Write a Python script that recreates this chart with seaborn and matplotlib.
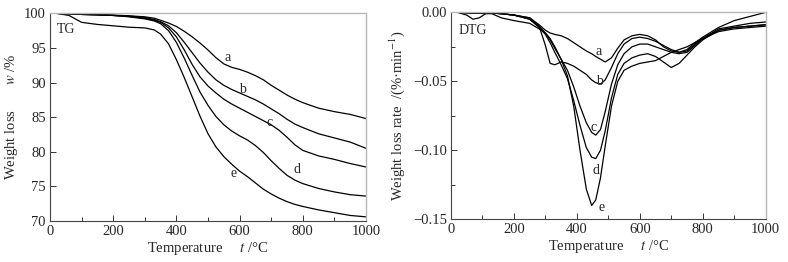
import numpy as np
import pandas as pd
import seaborn as sns
import matplotlib.pyplot as plt
from matplotlib.ticker import MultipleLocator

# TG curves (weight %)
tg_temp = [20, 60, 80, 100, 150, 200, 250, 300, 330, 350, 375, 400, 425, 450, 475,
           500, 525, 550, 575, 600, 625, 650, 675, 700, 725, 750, 775, 800, 850, 900, 950, 1000]
tg_a = [100, 99.95, 99.9, 99.85, 99.8, 99.75, 99.65, 99.5, 99.3, 99.0, 98.6, 98.1, 97.4, 96.6, 95.7,
        94.7, 93.6, 92.7, 92.2, 91.9, 91.5, 91.0, 90.4, 89.6, 88.9, 88.2, 87.6, 87.1, 86.3, 85.8, 85.4, 84.8]
tg_b = [100, 99.95, 99.9, 99.85, 99.8, 99.7, 99.6, 99.4, 99.1, 98.8, 98.2, 97.2, 95.8, 94.3, 92.8,
        91.5, 90.4, 89.6, 89.0, 88.5, 88.0, 87.5, 86.9, 86.2, 85.5, 84.7, 84.0, 83.5, 82.6, 82.0, 81.4, 80.5]
tg_c = [100, 99.95, 99.9, 99.85, 99.8, 99.7, 99.55, 99.3, 99.0, 98.7, 97.9, 96.6, 94.7, 92.6, 90.8,
        89.5, 88.5, 87.6, 86.9, 86.3, 85.7, 85.1, 84.5, 83.9, 83.1, 82.1, 81.0, 80.2, 79.4, 78.9, 78.3, 77.8]
tg_d = [100, 99.95, 99.9, 99.85, 99.8, 99.7, 99.5, 99.2, 98.9, 98.5, 97.5, 95.8, 93.5, 91.0, 88.6,
        86.7, 85.1, 83.9, 83.0, 82.3, 81.7, 80.9, 79.9, 78.7, 77.6, 76.6, 75.9, 75.4, 74.7, 74.2, 73.8, 73.6]
tg_e = [100, 99.7, 99.2, 98.7, 98.4, 98.2, 98.0, 97.9, 97.6, 97.0, 95.6, 93.3, 90.7, 87.9, 85.1,
        82.6, 80.7, 79.3, 78.2, 77.2, 76.4, 75.5, 74.6, 73.9, 73.3, 72.8, 72.4, 72.1, 71.6, 71.2, 70.8, 70.6]

# DTG curves
dtg_temp = [20, 50, 70, 90, 110, 130, 160, 200, 250, 280, 300, 315, 330, 350, 370, 390, 410, 430, 447,
            460, 475, 490, 510, 530, 550, 575, 600, 625, 650, 675, 700, 725, 750, 775, 800, 850, 900, 950, 1000]
dtg_a = [0, -0.0003, -0.0005, -0.0007, -0.0008, -0.0005, -0.001, -0.002, -0.004, -0.009, -0.013, -0.015,
         -0.016, -0.017, -0.019, -0.022, -0.025, -0.028, -0.030, -0.032, -0.034, -0.036, -0.033, -0.026,
         -0.020, -0.017, -0.016, -0.017, -0.020, -0.025, -0.028, -0.029, -0.028, -0.023, -0.019, -0.013,
         -0.011, -0.010, -0.009]
dtg_b = [0, -0.0003, -0.0005, -0.0007, -0.0008, -0.0005, -0.001, -0.002, -0.004, -0.010, -0.024, -0.037,
         -0.038, -0.036, -0.037, -0.039, -0.042, -0.045, -0.049, -0.051, -0.052, -0.049, -0.040, -0.030,
         -0.023, -0.019, -0.018, -0.019, -0.021, -0.024, -0.027, -0.029, -0.027, -0.022, -0.018, -0.011,
         -0.006, -0.003, 0.000]
dtg_c = [0, -0.0003, -0.0005, -0.0007, -0.0008, -0.0005, -0.001, -0.002, -0.005, -0.010, -0.015, -0.020,
         -0.026, -0.034, -0.042, -0.054, -0.068, -0.080, -0.087, -0.089, -0.085, -0.072, -0.052, -0.038,
         -0.030, -0.025, -0.023, -0.023, -0.025, -0.027, -0.029, -0.030, -0.029, -0.024, -0.019, -0.012,
         -0.010, -0.008, -0.007]
dtg_d = [0, -0.0003, -0.0005, -0.0007, -0.0008, -0.0005, -0.001, -0.002, -0.005, -0.011, -0.016, -0.022,
         -0.029, -0.038, -0.048, -0.064, -0.082, -0.098, -0.105, -0.106, -0.100, -0.086, -0.062, -0.045,
         -0.037, -0.033, -0.031, -0.030, -0.032, -0.036, -0.040, -0.037, -0.031, -0.025, -0.020, -0.013,
         -0.011, -0.010, -0.009]
dtg_e = [0, -0.002, -0.005, -0.004, -0.001, -0.001, -0.004, -0.006, -0.008, -0.012, -0.015, -0.019,
         -0.025, -0.034, -0.046, -0.068, -0.100, -0.128, -0.140, -0.136, -0.120, -0.097, -0.068, -0.050,
         -0.042, -0.039, -0.037, -0.036, -0.035, -0.032, -0.029, -0.027, -0.025, -0.022, -0.019, -0.014,
         -0.012, -0.011, -0.010]

tg_labels = {"a": (562, 93.6), "b": (609, 89.0), "c": (696, 84.2), "d": (781, 77.4), "e": (580, 76.8)}
dtg_labels = {"a": (470, -0.0285), "b": (472, -0.0498), "c": (454, -0.0833),
              "d": (461, -0.1147), "e": (478, -0.1413)}

sns.set_style("ticks")
plt.rcParams["font.family"] = ["Liberation Serif", "DejaVu Serif"]
plt.rcParams["mathtext.fontset"] = "stix"
plt.rcParams["font.size"] = 10

fig = plt.figure(figsize=(7.88, 2.62), dpi=100)
ax1 = fig.add_axes([0.0635, 0.1565, 0.401, 0.7925])
ax2 = fig.add_axes([0.5723, 0.163, 0.3994, 0.790])

for ys in [tg_a, tg_b, tg_c, tg_d, tg_e]:
    sns.lineplot(x=tg_temp, y=ys, ax=ax1, color="black", lw=0.9)
for ys in [dtg_a, dtg_b, dtg_c, dtg_d, dtg_e]:
    sns.lineplot(x=dtg_temp, y=ys, ax=ax2, color="black", lw=0.9)

for k, (x, y) in tg_labels.items():
    ax1.text(x, y, k, ha="center", va="center", fontsize=10)
for k, (x, y) in dtg_labels.items():
    ax2.text(x, y, k, ha="center", va="center", fontsize=10)
ax1.text(51, 97.7, "TG", ha="center", va="center", fontsize=10)
ax2.text(68, -0.0133, "DTG", ha="center", va="center", fontsize=10)

ax1.set_xlim(0, 1000)
ax1.set_ylim(70, 100)
ax1.yaxis.set_major_locator(MultipleLocator(5))
ax2.set_xlim(0, 1000)
ax2.set_ylim(-0.15, 0)
ax2.yaxis.set_major_locator(MultipleLocator(0.05))
ax2.yaxis.set_minor_locator(MultipleLocator(0.025))
ax2.yaxis.set_major_formatter(plt.FuncFormatter(
    lambda v, p: ("\u2212%.2f" % abs(v)) if v < -1e-9 else "0.00"))

for ax in (ax1, ax2):
    ax.xaxis.set_major_locator(MultipleLocator(200))
    ax.xaxis.set_minor_locator(MultipleLocator(100))
    ax.tick_params(which="both", direction="in", top=False, right=False,
                   labelsize=10.5, width=0.7, color="#333333", pad=3)
    ax.tick_params(which="major", length=4)
    ax.tick_params(which="minor", length=3)
    for s in ("left", "bottom"):
        ax.spines[s].set_color("#444444")
        ax.spines[s].set_linewidth(0.8)
    for s in ("top", "right"):
        ax.spines[s].set_visible(True)
        ax.spines[s].set_color("#b8b8b8")
        ax.spines[s].set_linewidth(1.0)
    ax.set_xlabel("Temperature     $t$ /\u00b0C", fontsize=10.5, labelpad=1)

ax1.set_ylabel("Weight loss       $w$ /%", fontsize=10.5)
ax1.yaxis.set_label_coords(-0.095, 0.5)
ax2.set_ylabel("Weight loss rate  /(%\u00b7min$^{-1}$)", fontsize=10.5, labelpad=4)

fig.savefig("out.png", dpi=100)
